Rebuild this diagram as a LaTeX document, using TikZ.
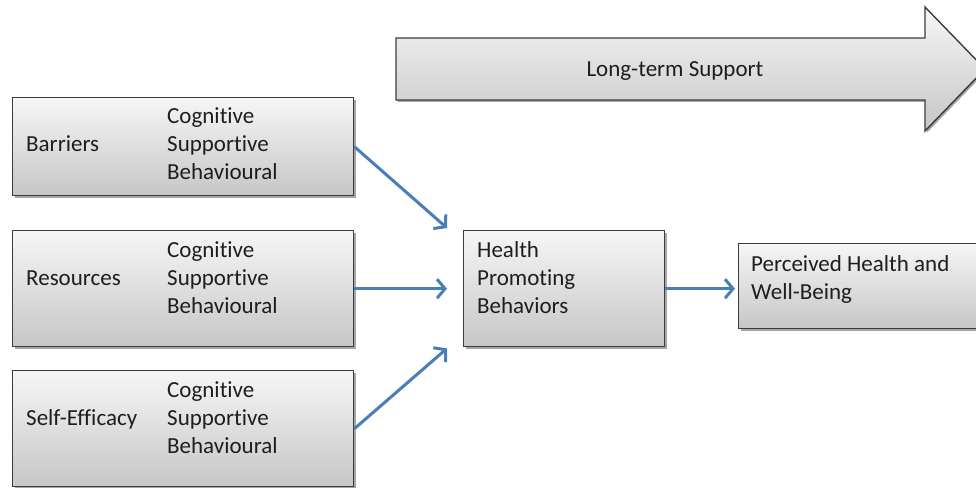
\documentclass[tikz,border=0pt]{standalone}
\usepackage{fontspec}
\setmainfont[Ligatures=NoCommon]{Carlito}
\usetikzlibrary{arrows.meta,shadows}
\definecolor{boxtop}{RGB}{246,246,246}
\definecolor{boxbot}{RGB}{198,198,198}
\definecolor{boxline}{RGB}{60,60,60}
\definecolor{arrowblue}{RGB}{74,126,187}
\definecolor{txt}{RGB}{30,30,30}
\tikzset{
  box/.style={draw=boxline, line width=1.4pt, top color=boxtop, bottom color=boxbot,
    drop shadow={shadow xshift=1.8pt, shadow yshift=-1.8pt, opacity=0.35, fill=black},
    rectangle, anchor=north west, inner sep=0pt},
  lbl/.style={anchor=base west, inner sep=0pt, text=txt,
    font=\fontsize{23}{28}\selectfont},
  conn/.style={draw=arrowblue, line width=3pt,
    -{Straight Barb[length=8pt, width=19pt, line width=3pt]}},
}
\begin{document}
\begin{tikzpicture}[x=1pt, y=-1pt]
\useasboundingbox (0,0) rectangle (976,487);

% long-term support arrow
\path[draw=boxline, line width=1.4pt, top color=boxtop, bottom color=boxbot,
  drop shadow={shadow xshift=1.8pt, shadow yshift=-1.8pt, opacity=0.35, fill=black}]
  (396,38) -- (925,38) -- (925,7) -- (985,69) -- (925,131) -- (925,100) -- (396,100) -- cycle;
\node[lbl, anchor=base] (lts) at (675,76) {Long-term Support};

% left boxes
\node[box, minimum width=341pt, minimum height=98pt] (barriers) at (12,97) {};
\node[box, minimum width=341pt, minimum height=116pt] (resources) at (12,230) {};
\node[box, minimum width=341pt, minimum height=116pt] (selfeff) at (12,370) {};

\node[lbl] (b0) at (26,151) {Barriers};
\node[lbl] (b1) at (167,123) {Cognitive};
\node[lbl] (b2) at (167,151) {Supportive};
\node[lbl] (b3) at (167,179) {Behavioural};

\node[lbl] (r0) at (26,285) {Resources};
\node[lbl] (r1) at (167,257) {Cognitive};
\node[lbl] (r2) at (167,285) {Supportive};
\node[lbl] (r3) at (167,313) {Behavioural};

\node[lbl] (s0) at (26,425) {Self-Efficacy};
\node[lbl] (s1) at (167,397) {Cognitive};
\node[lbl] (s2) at (167,425) {Supportive};
\node[lbl] (s3) at (167,453) {Behavioural};

% health promoting behaviors
\node[box, minimum width=201pt, minimum height=116pt] (health) at (463,230) {};
\node[lbl] (h1) at (477,257) {Health};
\node[lbl] (h2) at (477,285) {Promoting};
\node[lbl] (h3) at (477,313) {Behaviors};

% perceived health
\node[box, minimum width=250pt, minimum height=85pt] (perceived) at (738,243) {};
\node[lbl] (p1) at (751,271) {Perceived Health and};
\node[lbl] (p2) at (751,299) {Well-Being};

% connectors
\draw[conn] (barriers.east) -- ([shift={(-16,-2)}]health.north west);
\draw[conn] (resources.east) -- ([xshift=-16pt]health.west);
\draw[conn] (selfeff.east) -- ([shift={(-16,1)}]health.south west);
\draw[conn] (health.east) -- ([xshift=-3pt]perceived.west |- health.east);
\end{tikzpicture}
\end{document}
